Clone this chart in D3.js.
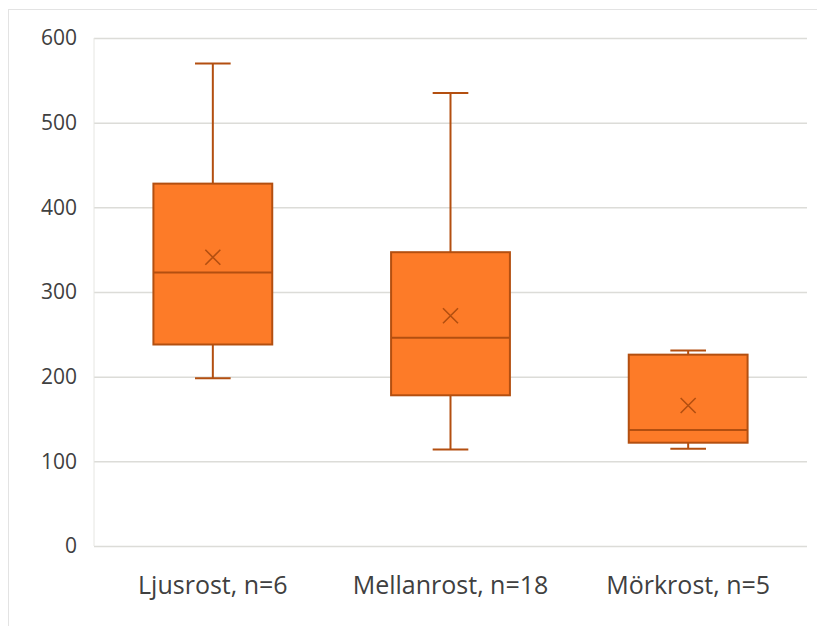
<!DOCTYPE html>
<html>
<head>
<meta charset="utf-8">
<script src="https://cdn.jsdelivr.net/npm/d3@7"></script>
<style>
  body { margin: 0; background: #fff; }
  svg text { font-family: "Open Sans", "Noto Sans", sans-serif; fill: #404040; }
</style>
</head>
<body>
<div id="chart"></div>
<script>
// chart data
var categories = ["Ljusrost, n=6", "Mellanrost, n=18", "Mörkrost, n=5"];
var minValues    = [198, 114, 115];
var q1Values     = [238, 178, 122];
var medianValues = [323, 246, 137];
var q3Values     = [428, 347, 226];
var maxValues    = [570, 535, 231];
var meanValues   = [341, 272, 166];
var yTicks = [0, 100, 200, 300, 400, 500, 600];

var width = 817, height = 626;
var margin = { top: 38, right: 10, bottom: 80, left: 94 };

var boxFill = "#fd7b28", boxStroke = "#b34f10";

var data = categories.map(function(c, i) {
    return { cat: c, min: minValues[i], q1: q1Values[i], med: medianValues[i],
             q3: q3Values[i], max: maxValues[i], mean: meanValues[i] };
});

var svg = d3.select("#chart").append("svg")
    .attr("width", width)
    .attr("height", height);

// outer chart frame
svg.append("rect")
    .attr("x", 8.5).attr("y", 9.5)
    .attr("width", width).attr("height", height)
    .attr("fill", "none")
    .attr("stroke", "#e3e3e3")
    .attr("stroke-width", 1);

var x = d3.scaleBand()
    .domain(categories)
    .range([margin.left, 807])
    .padding(0);

var y = d3.scaleLinear()
    .domain([0, 600])
    .range([546, margin.top]);

// gridlines
var grid = svg.append("g")
    .attr("transform", "translate(" + margin.left + ",0)")
    .call(d3.axisLeft(y).tickValues(yTicks).tickSize(-(807 - margin.left)).tickFormat(""));
grid.select(".domain").remove();
grid.selectAll("line").attr("stroke", "#dcdcd8").attr("stroke-width", 1.5);

// left vertical axis line (faint)
svg.append("line")
    .attr("x1", margin.left).attr("x2", margin.left)
    .attr("y1", y(600)).attr("y2", y(0))
    .attr("stroke", "#e6e6e2").attr("stroke-width", 1);

// y tick labels
var yAxis = svg.append("g")
    .attr("transform", "translate(" + margin.left + ",0)")
    .call(d3.axisLeft(y).tickValues(yTicks).tickSize(0).tickPadding(17));
yAxis.select(".domain").remove();
yAxis.selectAll("text")
    .style("font-size", "21px")
    .attr("fill", "#404040");

// x labels
var xAxis = svg.append("g")
    .attr("transform", "translate(0," + y(0) + ")")
    .call(d3.axisBottom(x).tickSize(0).tickPadding(0));
xAxis.select(".domain").remove();
xAxis.selectAll("text")
    .attr("y", 48)
    .attr("dy", 0)
    .style("font-size", "25px")
    .attr("fill", "#404040");

var bw = x.bandwidth();
var boxW = bw * 0.5;
var capW = bw * 0.15;

var g = svg.selectAll(".box")
    .data(data)
    .enter().append("g")
    .attr("class", "box")
    .attr("transform", function(d) { return "translate(" + (x(d.cat) + bw / 2) + ",0)"; });

// whiskers
g.append("line")
    .attr("x1", 0).attr("x2", 0)
    .attr("y1", function(d) { return y(d.max); })
    .attr("y2", function(d) { return y(d.q3); })
    .attr("stroke", boxStroke).attr("stroke-width", 2);
g.append("line")
    .attr("x1", 0).attr("x2", 0)
    .attr("y1", function(d) { return y(d.q1); })
    .attr("y2", function(d) { return y(d.min); })
    .attr("stroke", boxStroke).attr("stroke-width", 2);

// caps
g.append("line")
    .attr("x1", -capW / 2).attr("x2", capW / 2)
    .attr("y1", function(d) { return y(d.max); })
    .attr("y2", function(d) { return y(d.max); })
    .attr("stroke", boxStroke).attr("stroke-width", 2);
g.append("line")
    .attr("x1", -capW / 2).attr("x2", capW / 2)
    .attr("y1", function(d) { return y(d.min); })
    .attr("y2", function(d) { return y(d.min); })
    .attr("stroke", boxStroke).attr("stroke-width", 2);

// box
g.append("rect")
    .attr("x", -boxW / 2)
    .attr("width", boxW)
    .attr("y", function(d) { return y(d.q3); })
    .attr("height", function(d) { return y(d.q1) - y(d.q3); })
    .attr("fill", boxFill)
    .attr("stroke", boxStroke)
    .attr("stroke-width", 2);

// median
g.append("line")
    .attr("x1", -boxW / 2).attr("x2", boxW / 2)
    .attr("y1", function(d) { return y(d.med); })
    .attr("y2", function(d) { return y(d.med); })
    .attr("stroke", boxStroke).attr("stroke-width", 2);

// mean marker (x)
var s = 7.5;
g.append("path")
    .attr("d", function(d) {
        var m = y(d.mean);
        return "M" + (-s) + "," + (m - s) + "L" + s + "," + (m + s) +
               "M" + s + "," + (m - s) + "L" + (-s) + "," + (m + s);
    })
    .attr("fill", "none")
    .attr("stroke", boxStroke)
    .attr("stroke-width", 1.6);
</script>
</body>
</html>
